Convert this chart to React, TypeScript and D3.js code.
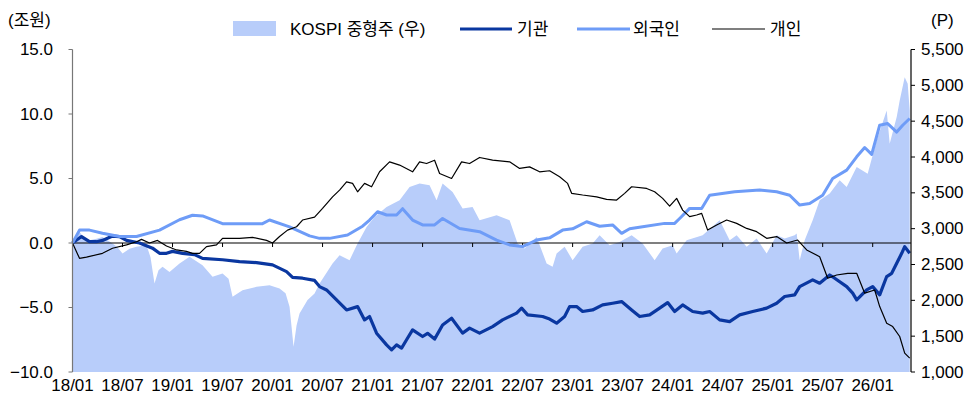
import React from 'react';
import * as d3 from 'd3';

// time in decimal years
const xTickLabels = ['18/01','18/07','19/01','19/07','20/01','20/07','21/01','21/07','22/01','22/07','23/01','23/07','24/01','24/07','25/01','25/07','26/01'];
const leftTicks = [15, 10, 5, 0, -5, -10];
const rightTicks = [5500, 5000, 4500, 4000, 3500, 3000, 2500, 2000, 1500, 1000];

// KOSPI 중형주 (P, right axis)
const kospiMid: [number, number][] = [
  [2018.00,2839],[2018.04,2900],[2018.07,2955],[2018.12,2870],[2018.17,2839],[2018.24,2860],[2018.30,2885],[2018.40,2793],[2018.45,2740],[2018.50,2654],[2018.57,2720],[2018.64,2746],[2018.74,2770],[2018.78,2600],[2018.82,2236],[2018.86,2420],[2018.90,2467],[2018.97,2397],
  [2019.07,2514],[2019.17,2607],[2019.30,2491],[2019.40,2328],[2019.50,2375],[2019.56,2300],[2019.60,2049],[2019.70,2142],[2019.84,2188],[2019.97,2212],[2020.07,2165],[2020.13,2100],[2020.17,1910],[2020.21,1352],[2020.24,1650],[2020.27,1818],[2020.35,2003],[2020.42,2096],[2020.47,2236],[2020.60,2514],[2020.67,2630],[2020.77,2560],[2020.85,2793],[2020.94,3024],
  [2021.02,3163],[2021.14,3303],[2021.27,3396],[2021.37,3582],[2021.47,3629],[2021.57,3605],[2021.64,3396],[2021.70,3629],[2021.80,3512],[2021.90,3280],[2022.00,3303],[2022.07,3117],[2022.24,3187],[2022.37,3117],[2022.45,2793],[2022.52,2723],[2022.64,2885],[2022.74,2514],[2022.80,2467],[2022.84,2654],[2022.92,2746],
  [2023.00,2560],[2023.10,2746],[2023.20,2793],[2023.27,2909],[2023.37,2769],[2023.47,2815],[2023.59,2909],[2023.70,2793],[2023.82,2560],[2023.90,2723],[2024.00,2769],[2024.04,2654],[2024.14,2839],[2024.30,2909],[2024.47,3117],[2024.57,2839],[2024.64,2909],[2024.74,2746],[2024.84,2862],[2024.94,2654],
  [2025.04,2909],[2025.12,2862],[2025.22,2909],[2025.24,2932],[2025.27,2560],[2025.32,2839],[2025.40,3117],[2025.47,3396],[2025.57,3489],[2025.67,3675],[2025.74,3582],[2025.84,3860],[2025.95,3768],[2026.04,4232],[2026.14,4650],[2026.17,4186],[2026.24,4557],[2026.27,4789],[2026.32,5114],[2026.35,5022],[2026.37,4650]
];

// 기관 (조원, left axis)
const institution: [number, number][] = [
  [2018.00,0],[2018.09,0.5],[2018.17,0.1],[2018.24,0.1],[2018.30,0.2],[2018.40,0.54],[2018.47,0.5],[2018.54,0.2],[2018.67,0.0],[2018.80,-0.4],[2018.87,-0.8],[2018.94,-0.8],
  [2019.00,-0.65],[2019.10,-0.8],[2019.22,-0.9],[2019.30,-1.19],[2019.50,-1.3],[2019.67,-1.45],[2019.84,-1.52],[2020.00,-1.7],[2020.14,-2.22],[2020.20,-2.66],[2020.30,-2.73],[2020.42,-2.9],[2020.47,-3.38],[2020.54,-3.64],[2020.64,-4.41],[2020.74,-5.19],[2020.85,-4.93],[2020.92,-5.96],[2020.97,-5.7],
  [2021.04,-6.99],[2021.14,-7.9],[2021.19,-8.28],[2021.24,-7.9],[2021.29,-8.15],[2021.34,-7.5],[2021.40,-6.73],[2021.50,-7.25],[2021.55,-7.0],[2021.62,-7.45],[2021.70,-6.35],[2021.79,-5.83],[2021.90,-6.99],[2021.97,-6.6],
  [2022.07,-6.99],[2022.20,-6.48],[2022.30,-5.96],[2022.44,-5.44],[2022.49,-5.05],[2022.55,-5.57],[2022.70,-5.7],[2022.77,-5.9],[2022.84,-6.22],[2022.92,-5.7],[2022.97,-4.93],
  [2023.04,-4.93],[2023.10,-5.31],[2023.20,-5.19],[2023.30,-4.8],[2023.40,-4.67],[2023.49,-4.54],[2023.59,-5.19],[2023.67,-5.7],[2023.77,-5.57],[2023.87,-5.05],[2023.95,-4.62],
  [2024.02,-5.31],[2024.10,-4.8],[2024.20,-5.31],[2024.30,-5.44],[2024.37,-5.31],[2024.47,-5.96],[2024.57,-6.09],[2024.67,-5.57],[2024.80,-5.31],[2024.94,-5.05],
  [2025.04,-4.67],[2025.12,-4.15],[2025.22,-4.02],[2025.27,-3.38],[2025.40,-2.86],[2025.47,-3.12],[2025.57,-2.48],[2025.62,-2.73],[2025.74,-3.38],[2025.80,-3.89],[2025.84,-4.41],[2025.94,-3.64],
  [2026.00,-3.38],[2026.07,-4.02],[2026.14,-2.6],[2026.19,-2.35],[2026.24,-1.57],[2026.29,-0.8],[2026.32,-0.28],[2026.37,-0.8]
];

// 외국인 (조원, left axis)
const foreign: [number, number][] = [
  [2018.00,0],[2018.07,1.0],[2018.17,1.0],[2018.30,0.75],[2018.47,0.5],[2018.57,0.5],[2018.64,0.5],[2018.87,1.0],
  [2019.07,1.8],[2019.20,2.15],[2019.30,2.1],[2019.50,1.5],[2019.90,1.5],[2019.97,1.78],[2020.17,1.25],[2020.37,0.55],[2020.47,0.36],[2020.57,0.36],[2020.75,0.62],[2020.90,1.3],[2020.97,1.78],
  [2021.05,2.42],[2021.14,2.17],[2021.24,2.17],[2021.30,2.66],[2021.40,1.78],[2021.50,1.4],[2021.62,1.4],[2021.70,1.9],[2021.87,1.13],
  [2022.07,0.88],[2022.24,0.23],[2022.37,-0.15],[2022.50,-0.28],[2022.64,0.23],[2022.77,0.4],[2022.90,1.0],
  [2023.00,1.1],[2023.14,1.65],[2023.27,1.3],[2023.40,1.4],[2023.49,0.75],[2023.57,1.1],[2023.70,1.26],[2023.92,1.52],
  [2024.02,1.52],[2024.07,1.9],[2024.17,2.68],[2024.29,2.68],[2024.37,3.7],[2024.62,3.97],[2024.87,4.1],
  [2025.04,3.97],[2025.17,3.7],[2025.27,2.94],[2025.37,3.07],[2025.50,3.7],[2025.60,5.0],[2025.74,5.65],[2025.84,6.68],[2025.92,7.4],[2025.99,6.87],
  [2026.07,9.13],[2026.15,9.26],[2026.24,8.6],[2026.30,9.13],[2026.37,9.65]
];

// 개인 (조원, left axis)
const individual: [number, number][] = [
  [2018.00,0],[2018.07,-1.19],[2018.14,-1.1],[2018.30,-0.8],[2018.40,-0.41],[2018.54,-0.15],[2018.64,0.1],[2018.69,0.28],[2018.77,0.0],[2018.85,0.2],[2018.94,-0.23],
  [2019.04,-0.54],[2019.14,-0.65],[2019.20,-0.8],[2019.27,-0.8],[2019.34,-0.28],[2019.44,-0.15],[2019.50,0.36],[2019.67,0.36],[2019.80,0.44],[2019.94,0.2],
  [2020.00,0.0],[2020.07,0.5],[2020.15,1.0],[2020.24,1.26],[2020.30,1.78],[2020.42,2.0],[2020.50,2.68],[2020.60,3.58],[2020.67,4.1],[2020.74,4.74],[2020.80,4.62],[2020.85,3.97],[2020.92,4.62],[2020.99,4.36],
  [2021.07,5.52],[2021.17,6.29],[2021.27,6.04],[2021.40,5.52],[2021.47,6.29],[2021.54,6.16],[2021.62,6.42],[2021.67,5.39],[2021.79,5.0],[2021.89,6.29],[2021.97,6.16],
  [2022.07,6.63],[2022.20,6.42],[2022.37,6.29],[2022.47,5.78],[2022.57,5.9],[2022.67,5.52],[2022.77,5.6],[2022.87,5.13],[2022.95,4.62],[2022.99,3.85],
  [2023.10,3.72],[2023.24,3.58],[2023.34,3.38],[2023.44,3.33],[2023.52,3.85],[2023.59,4.36],[2023.74,4.23],[2023.82,3.97],[2023.90,3.46],[2023.97,2.86],
  [2024.04,3.46],[2024.10,2.55],[2024.17,2.04],[2024.24,2.17],[2024.29,2.3],[2024.35,1.0],[2024.44,1.4],[2024.54,1.78],[2024.64,1.52],[2024.74,1.13],[2024.84,0.88],[2024.94,0.36],
  [2025.04,0.5],[2025.14,0.0],[2025.25,0.23],[2025.34,-0.54],[2025.47,-1.06],[2025.55,-2.73],[2025.64,-2.48],[2025.75,-2.35],[2025.84,-2.35],[2025.92,-3.89],
  [2026.02,-3.64],[2026.07,-4.93],[2026.14,-6.22],[2026.20,-6.48],[2026.27,-7.25],[2026.32,-8.54],[2026.37,-8.93]
];

const COLORS = { area: '#b8cdfa', inst: '#0a37a0', foreign: '#6e9cf7', indiv: '#000000' };
const FONT = '"Liberation Sans", Arial, "Noto Sans CJK KR", sans-serif';

export default function App() {
  const W = 973, H = 405;
  const left = 72.5, right = 911, top = 49.5, bottom = 372;
  const x = d3.scaleLinear().domain([2018, 2026.383]).range([left, right]);
  const yL = d3.scaleLinear().domain([-10, 15]).range([bottom, top]);
  const yR = d3.scaleLinear().domain([1000, 5500]).range([bottom, top]);

  const area = d3.area<[number, number]>().x(d => x(d[0])).y0(bottom).y1(d => yR(d[1]));
  const lineL = d3.line<[number, number]>().x(d => x(d[0])).y(d => yL(d[1]));

  const xTicks = xTickLabels.map((lab, i) => ({ lab, t: 2018 + i * 0.5 }));
  const fmtL = (v: number) => (v < 0 ? '\u2212' : '') + Math.abs(v).toFixed(1);
  const fmtR = d3.format(',');

  return (
    <svg width={W} height={H} style={{ position: 'absolute', left: 0, top: 0, background: '#fff' }} fontFamily={FONT}>
      <path d={area(kospiMid) || ''} fill={COLORS.area} />
      <line x1={left} x2={right} y1={yL(0)} y2={yL(0)} stroke="#000" strokeWidth={1.2} />
      {xTicks.map(d => (
        <g key={d.lab}>
          {d.t > 2018 && <line x1={x(d.t)} x2={x(d.t)} y1={yL(0)} y2={yL(0) + 4} stroke="#000" strokeWidth={1} />}
          <text x={x(d.t)} y={385} textAnchor="middle" dominantBaseline="central" fontSize={17} fill="#000">{d.lab}</text>
        </g>
      ))}
      <path d={lineL(institution) || ''} fill="none" stroke={COLORS.inst} strokeWidth={3.2} strokeLinejoin="round" />
      <path d={lineL(foreign) || ''} fill="none" stroke={COLORS.foreign} strokeWidth={3} strokeLinejoin="round" />
      <path d={lineL(individual) || ''} fill="none" stroke={COLORS.indiv} strokeWidth={1.2} strokeLinejoin="round" />

      {/* left axis */}
      <line x1={left} x2={left} y1={top} y2={bottom} stroke="#777" strokeWidth={1.2} />
      {leftTicks.map(v => (
        <g key={v}>
          <line x1={left - 4} x2={left} y1={yL(v)} y2={yL(v)} stroke="#777" strokeWidth={1} />
          <text x={53} y={yL(v)} textAnchor="end" dominantBaseline="central" fontSize={17} fill="#000">{fmtL(v)}</text>
        </g>
      ))}
      {/* right axis */}
      <line x1={right} x2={right} y1={top} y2={bottom} stroke="#000" strokeWidth={1.2} />
      {rightTicks.map(v => (
        <g key={v}>
          <line x1={right} x2={right + 4} y1={yR(v)} y2={yR(v)} stroke="#000" strokeWidth={1} />
          <text x={921} y={yR(v)} textAnchor="start" dominantBaseline="central" fontSize={17} fill="#000">{fmtR(v)}</text>
        </g>
      ))}
      <text x={8} y={20} dominantBaseline="central" fontSize={17} fill="#000">(조원)</text>
      <text x={931} y={20} dominantBaseline="central" fontSize={17} fill="#000">(P)</text>

      {/* legend */}
      <rect x={233} y={21} width={43} height={15} fill={COLORS.area} />
      <text x={290} y={29} dominantBaseline="central" fontSize={17} fill="#000">KOSPI 중형주 (우)</text>
      <line x1={460} x2={512} y1={29} y2={29} stroke={COLORS.inst} strokeWidth={3.2} />
      <text x={517} y={29} dominantBaseline="central" fontSize={17} fill="#000">기관</text>
      <line x1={577} x2={630} y1={29} y2={29} stroke={COLORS.foreign} strokeWidth={3} />
      <text x={633} y={29} dominantBaseline="central" fontSize={17} fill="#000">외국인</text>
      <line x1={712} x2={765} y1={29} y2={29} stroke={COLORS.indiv} strokeWidth={1.2} />
      <text x={770} y={29} dominantBaseline="central" fontSize={17} fill="#000">개인</text>
    </svg>
  );
}
